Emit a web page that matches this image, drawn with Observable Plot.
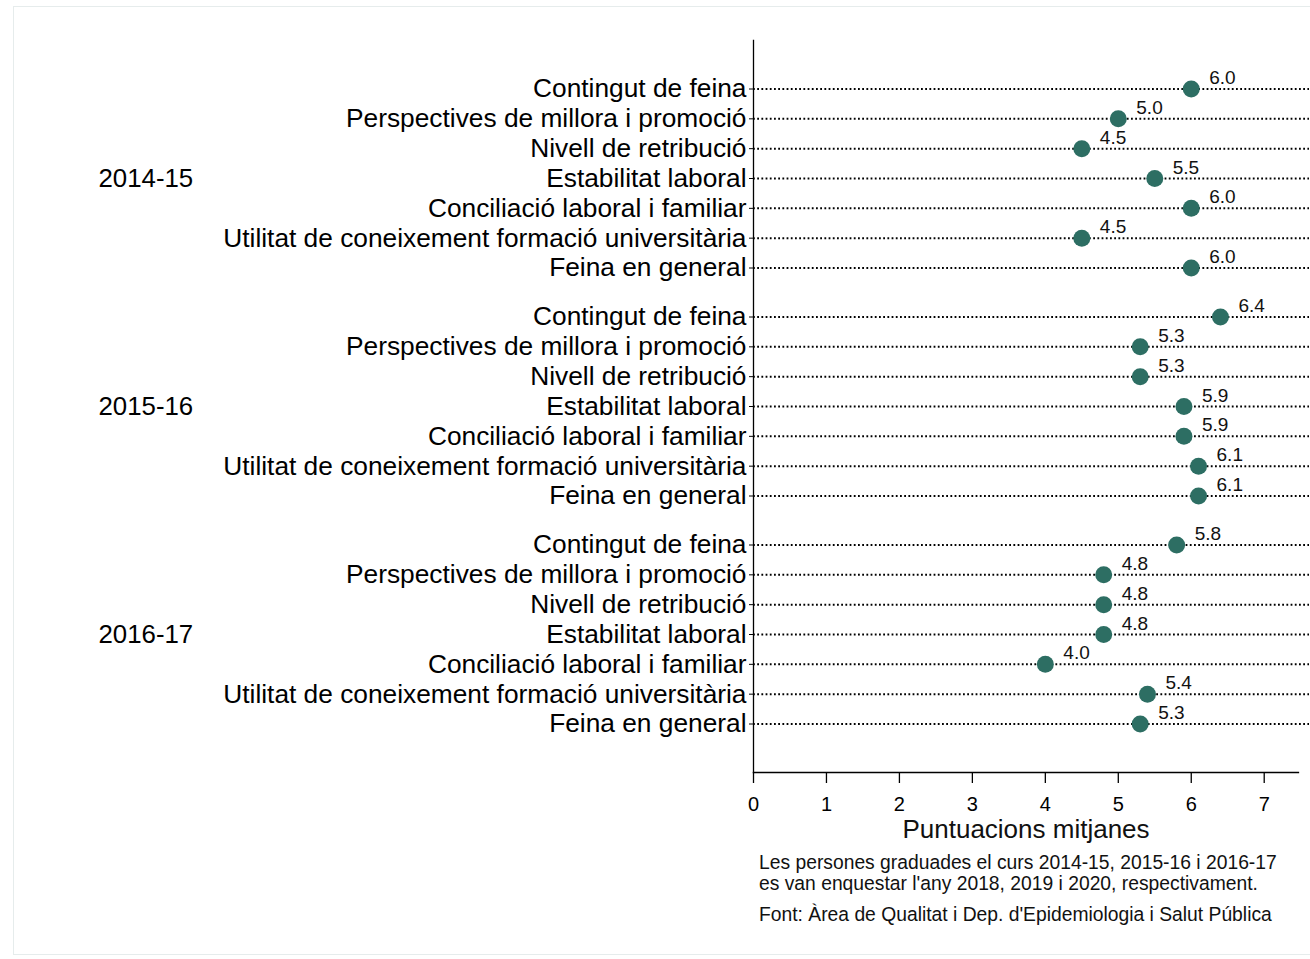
<!DOCTYPE html>
<html>
<head>
<meta charset="utf-8">
<script src="https://cdn.jsdelivr.net/npm/d3@7"></script>
<script src="https://cdn.jsdelivr.net/npm/@observablehq/plot@0.6"></script>
<style>
  body { margin: 0; background: #fff; }
  #wrap { position: relative; width: 1310px; height: 959px; overflow: hidden; font-family: "Liberation Sans", Arial, sans-serif; }
  #border { position: absolute; left: 13px; top: 6px; width: 1310px; height: 949px; border: 1px solid #e6ecec; box-sizing: border-box; }
  #chart { position: absolute; left: 0; top: 0; }
  #cap { position: absolute; left: 759px; top: 852px; font-size: 19.3px; line-height: 21px; color: #111; }
  #cap p { margin: 0; }
  #cap p.src { margin-top: 10px; }
</style>
</head>
<body>
<div id="wrap">
  <div id="border"></div>
  <div id="chart"></div>
  <div id="cap">
    <p>Les persones graduades el curs 2014-15, 2015-16 i 2016-17<br>es van enquestar l'any 2018, 2019 i 2020, respectivament.</p>
    <p class="src">Font: Àrea de Qualitat i Dep. d'Epidemiologia i Salut Pública</p>
  </div>
</div>
<script>
const years = ["2014-15", "2015-16", "2016-17"];
const items = [
  "Contingut de feina",
  "Perspectives de millora i promoció",
  "Nivell de retribució",
  "Estabilitat laboral",
  "Conciliació laboral i familiar",
  "Utilitat de coneixement formació universitària",
  "Feina en general"
];
const values2014 = [6.0, 5.0, 4.5, 5.5, 6.0, 4.5, 6.0];
const values2015 = [6.4, 5.3, 5.3, 5.9, 5.9, 6.1, 6.1];
const values2016 = [5.8, 4.8, 4.8, 4.8, 4.0, 5.4, 5.3];
const xTicks = [0, 1, 2, 3, 4, 5, 6, 7];
const xTitle = "Puntuacions mitjanes";

const seriesByYear = [values2014, values2015, values2016];
const data = years.flatMap((year, g) =>
  items.map((item, i) => ({year, item, value: seriesByYear[g][i]}))
);

const dotColor = "#2d6e63";
const ext = 24; // axis lines extend beyond the faceted area

const chart = Plot.plot({
  width: 1310,
  height: 850,
  marginLeft: 753,
  marginRight: 12,
  marginTop: 64,
  marginBottom: 102,
  style: {fontFamily: "'Liberation Sans', Arial, sans-serif", color: "#000", background: "transparent"},
  x: {domain: [0, 7.47]},
  y: {domain: items, type: "point", padding: 0, round: false, insetTop: 24.5, insetBottom: 24.5},
  fy: {domain: years, paddingInner: 0, paddingOuter: 0, round: false},
  marks: [
    Plot.ruleY(data, {y: "item", fy: "year", stroke: "#000", strokeWidth: 2, strokeDasharray: "1.8 2.4", insetRight: -11}),
    Plot.dot(data, {x: "value", y: "item", fy: "year", r: 8.5, fill: dotColor, stroke: "none"}),
    Plot.text(data, {x: "value", y: "item", fy: "year", text: d => d.value.toFixed(1), dx: 18, dy: -11, textAnchor: "start", fontSize: 19, fill: "#111"}),
    Plot.axisY({tickSize: 4, tickPadding: 3, fontSize: 26.3, label: null, stroke: "#000"}),
    Plot.axisFy({anchor: "left", label: null, tickSize: 0, tickPadding: 0, textAnchor: "start", dx: -655, fontSize: 25.8}),
    Plot.frame({anchor: "left", facet: "super", stroke: "#000", strokeWidth: 1.3, insetTop: -ext, insetBottom: -ext}),
    Plot.frame({anchor: "bottom", facet: "super", stroke: "#000", strokeWidth: 1.3, dy: ext}),
    Plot.axisX({ticks: xTicks, tickFormat: d => String(d), tickSize: 11, tickPadding: 13, fontSize: 20, label: null, strokeWidth: 1.3, dy: ext}),
    Plot.text([xTitle], {facet: "super", frameAnchor: "bottom", lineAnchor: "middle", dy: 57 + ext, fontSize: 26, fill: "#111"})
  ]
});
document.getElementById("chart").appendChild(chart);
</script>
</body>
</html>
